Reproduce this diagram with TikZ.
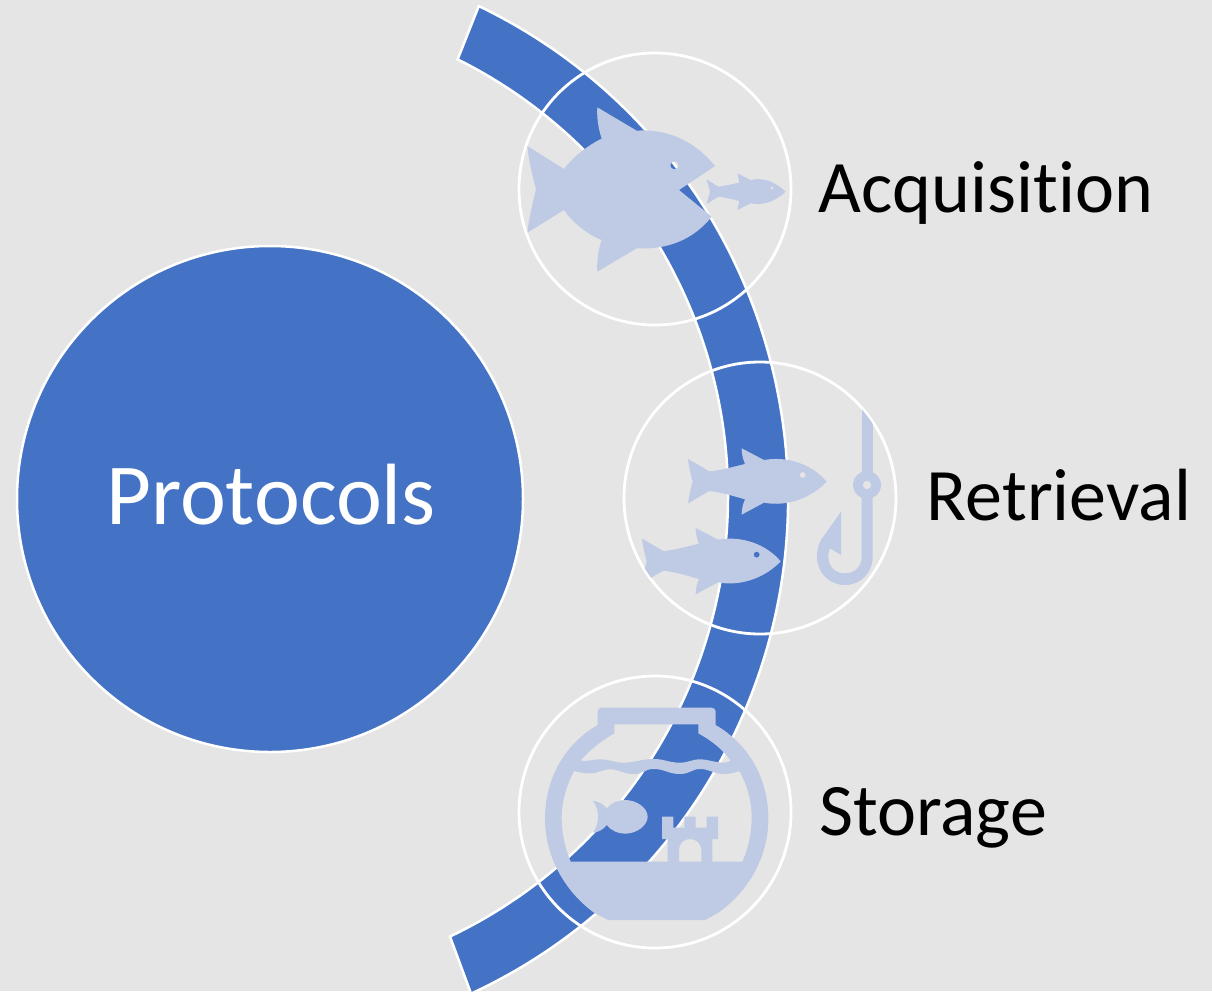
\documentclass[tikz,border=0pt]{standalone}
\usepackage{fontspec}
\setmainfont[RawFeature={-liga}]{Carlito}
\definecolor{pagebg}{HTML}{E5E5E5}
\definecolor{mainblue}{HTML}{4472C4}
\definecolor{icon}{HTML}{BFCAE4}
\tikzset{
  band/.style={fill=mainblue,draw=white,line width=2.5pt},
  ring/.style={draw=white,line width=2.8pt},
  iconfill/.style={fill=icon,draw=none,even odd rule},
  label/.style={text=black,font=\fontsize{74}{80}\selectfont,inner sep=0pt,anchor=base},
  zoomA/.style={shift={(510,40)},scale=1/3},
  zoomB/.style={shift={(620,360)},scale=1/3},
  zoomC/.style={shift={(510,670)},scale=1/3}
}
\newcommand{\herring}{%
  \fill[iconfill] (204,297) -- (268,334) .. controls (300,332) and (340,320) .. (375,312)
    .. controls (368,295) and (365,280) .. (365,265) -- (432,300) .. controls (505,287) and (578,315) .. (620,365)
    .. controls (578,410) and (505,442) .. (432,428) -- (365,464) .. controls (365,449) and (368,434) .. (375,418)
    .. controls (340,408) and (300,396) .. (268,393) -- (204,430)
    .. controls (208,405) and (212,385) .. (218,365) .. controls (212,345) and (208,325) .. (204,297) -- cycle
    (548,345) circle (9);
}
\begin{document}
\begin{tikzpicture}[x=1pt,y=-1pt]
\useasboundingbox (0,0) rectangle (1212,991);
\fill[pagebg] (0,0) rectangle (1212,991);
% central circle and band
\filldraw[band] (270,499) circle (253);
\path[band] (242,498) ++(-64.3:546) arc[start angle=-64.3,end angle=65.2,radius=546]
  -- (450,936.5) arc[start angle=64.5,end angle=-63.5,radius=488] -- cycle;
% rings
\draw[ring] (655,189) circle (136);
\draw[ring] (760,498) circle (136);
\draw[ring] (655,812) circle (136);
% acquisition icon
\begin{scope}[zoomA]
\clip (430,447) circle (405);
\fill[iconfill] (52,318) -- (162,387) .. controls (190,350) and (235,315) .. (275,296)
  .. controls (265,265) and (260,235) .. (262,202) -- (380,272)
  .. controls (480,265) and (560,310) .. (615,378) -- (507,450) -- (605,530)
  .. controls (550,600) and (470,630) .. (380,625) -- (262,695)
  .. controls (260,660) and (265,630) .. (275,600)
  .. controls (235,585) and (190,550) .. (162,510) -- (52,578)
  .. controls (58,530) and (68,490) .. (78,448) .. controls (68,410) and (58,370) .. (52,318) -- cycle
  (493,376) circle (12);
\fill[iconfill] (590,418) -- (625,440) .. controls (645,438) and (668,432) .. (688,428)
  -- (682,400) -- (722,420) .. controls (765,410) and (800,430) .. (827,455)
  .. controls (800,480) and (765,498) .. (722,490) -- (682,510) -- (688,483)
  .. controls (668,478) and (645,472) .. (625,470) -- (590,492)
  .. controls (593,478) and (597,468) .. (600,455) .. controls (597,442) and (593,432) .. (590,418) -- cycle
  (786,444) circle (5);
\end{scope}
% retrieval icon
\begin{scope}[zoomB]
\clip (420,414) circle (405);
\herring
\begin{scope}[shift={(-138,239)}]
\herring
\end{scope}
\fill[iconfill] (725,140) rectangle (758,345);
\fill[iconfill] (741,375) circle (42) (741,375) circle (13);
\fill[iconfill] (725,405) -- (725,591) .. controls (725,620) and (703,640) .. (675,640)
  .. controls (647,640) and (625,620) .. (625,591) .. controls (625,580) and (627,572) .. (630,565)
  -- (663,585) -- (663,455) -- (603,540) .. controls (595,555) and (591,572) .. (591,591)
  .. controls (591,638) and (628,675) .. (675,675) .. controls (722,675) and (758,638) .. (758,591)
  -- (758,405) -- cycle;
\end{scope}
% storage icon
\begin{scope}[zoomC]
\fill[iconfill] (275,113) -- (605,113) .. controls (612,113) and (617,118) .. (617,125)
  -- (617,165) .. controls (720,225) and (775,330) .. (775,447)
  .. controls (775,565) and (710,670) .. (622,730) -- (585,750) -- (295,750) -- (255,730)
  .. controls (170,670) and (105,565) .. (105,447)
  .. controls (105,330) and (160,225) .. (263,165) -- (263,125)
  .. controls (263,118) and (268,113) .. (275,113) -- cycle
  % air
  (313,163) -- (565,163) -- (565,190) .. controls (605,212) and (640,240) .. (662,272)
  .. controls (655,276) and (650,278) .. (640,278)
  .. controls (615,278) and (595,268) .. (570,268)
  .. controls (545,268) and (535,278) .. (510,278)
  .. controls (475,278) and (465,267) .. (430,267)
  .. controls (395,267) and (375,278) .. (340,278)
  .. controls (310,278) and (300,268) .. (270,268)
  .. controls (245,268) and (230,276) .. (212,272)
  .. controls (238,240) and (275,212) .. (313,190) -- cycle
  % water
  (192,303) .. controls (205,307) and (225,310) .. (240,310)
  .. controls (265,310) and (275,298) .. (300,298)
  .. controls (330,298) and (340,312) .. (370,312)
  .. controls (400,312) and (405,297) .. (430,297)
  .. controls (465,297) and (475,312) .. (510,312)
  .. controls (540,312) and (545,297) .. (570,297)
  .. controls (600,297) and (610,312) .. (640,312)
  .. controls (660,312) and (675,308) .. (688,303)
  .. controls (712,345) and (725,395) .. (725,440)
  .. controls (725,490) and (715,535) .. (697,575)
  -- (182,575) .. controls (165,535) and (155,490) .. (155,440)
  .. controls (155,395) and (170,345) .. (192,303) -- cycle;
% castle
\fill[iconfill] (473,580) -- (473,507) -- (456,507) -- (456,440) -- (490,440) -- (490,473)
  -- (523,473) -- (523,440) -- (557,440) -- (557,473) -- (590,473) -- (590,440)
  -- (624,440) -- (624,507) -- (607,507) -- (607,580) -- (574,580) -- (574,540)
  .. controls (574,520) and (558,507) .. (540,507) .. controls (522,507) and (507,520) .. (507,540)
  -- (507,580) -- cycle;
% fish
\fill[iconfill] (248,392) .. controls (268,395) and (280,403) .. (290,415)
  .. controls (305,398) and (325,390) .. (345,390)
  .. controls (382,390) and (413,415) .. (413,440)
  .. controls (413,465) and (382,491) .. (345,491)
  .. controls (325,491) and (305,483) .. (290,465)
  .. controls (280,478) and (268,486) .. (248,488)
  .. controls (270,460) and (270,420) .. (248,392) -- cycle;
\end{scope}
% labels
\node[text=white,font=\fontsize{87}{90}\selectfont,inner sep=0pt,anchor=base] (protocols) at (271,524) {Protocols};
\node[label] (acquisition) at (986,212) {Acquisition};
\node[label] (retrieval) at (1059,520) {Retrieval};
\node[label] (storage) at (933,835) {Storage};
\end{tikzpicture}
\end{document}
